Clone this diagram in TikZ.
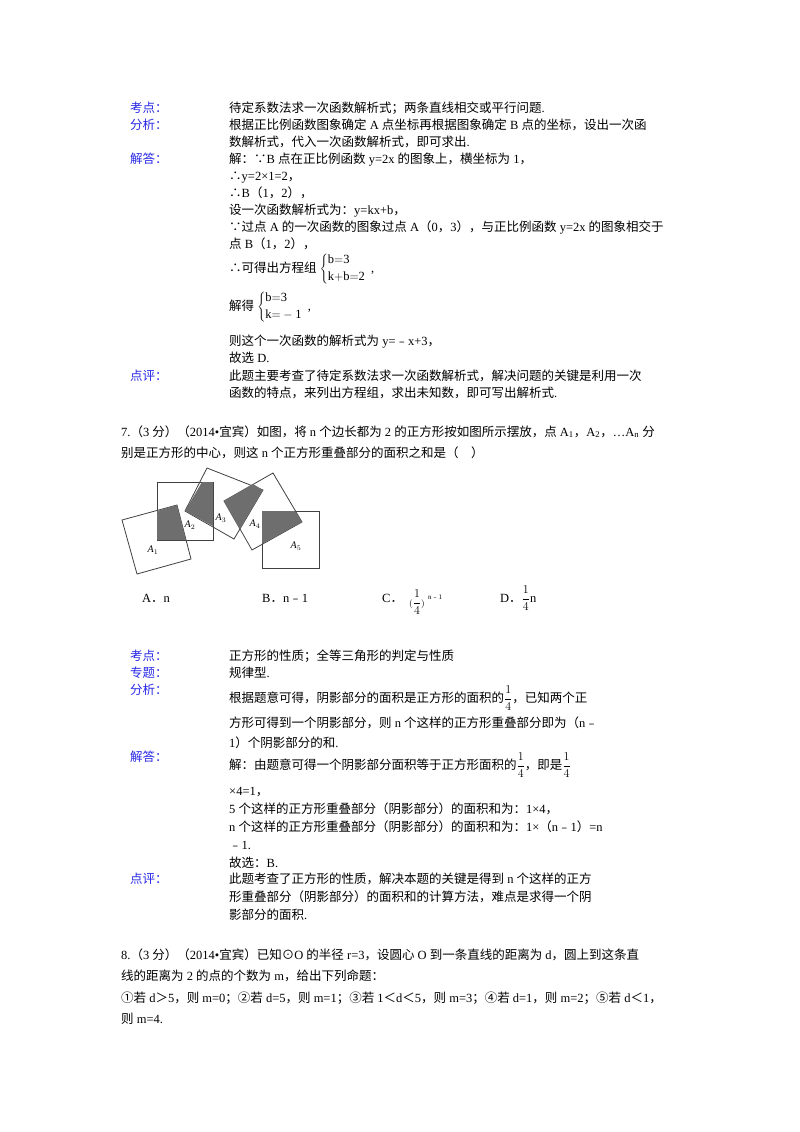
\documentclass[tikz,border=0pt]{standalone}
\usepackage{fontspec}
\setmainfont{Liberation Serif}
\newfontfamily\cjkfont{Noto Sans CJK SC}
\newfontfamily\latinfont{Liberation Serif}
\XeTeXinterchartokenstate=1
\newXeTeXintercharclass\cjkclass
\newcount\cc
\def\setrange#1#2{\cc=#1 \loop \XeTeXcharclass\cc=\cjkclass \advance\cc 1 \ifnum\cc<#2 \repeat}
\setrange{"3000}{"3040}
\setrange{"4E00}{"A000}
\setrange{"FF00}{"FFF0}
\setrange{"FE30}{"FE70}
\setrange{"2460}{"2474}
\setrange{"2234}{"2236}
\XeTeXcharclass"2299=\cjkclass
\XeTeXinterchartoks 0 \cjkclass = {\cjkfont}
\XeTeXinterchartoks 4095 \cjkclass = {\cjkfont}
\XeTeXinterchartoks \cjkclass 0 = {\latinfont}
\XeTeXinterchartoks \cjkclass 4095 = {\latinfont}
\definecolor{lab}{RGB}{40,40,230}
\definecolor{shade}{RGB}{110,110,110}
\tikzset{txt/.style={anchor=base west,inner sep=0pt,font=\fontsize{12.5}{15}\selectfont},
lbl/.style={txt,text=lab},
sq/.style={draw=black!75,line width=0.8pt},
sh/.style={fill=shade},
alab/.style={inner sep=0pt,font=\fontsize{10}{12}\itshape}}
\newcommand\lineat[4]{\node[txt] (#1) at (#2,#3) {#4};}
\begin{document}
\begin{tikzpicture}[x=1pt,y=-1pt]
\useasboundingbox (0,0) rectangle (800,1132);
\fill[white] (0,0) rectangle (800,1132);
% section 1
\node[lbl] (k1) at (130,112) {考点：};
\node[lbl] (f1) at (130,129) {分析：};
\node[lbl] (j1) at (130,163) {解答：};
\node[lbl] (d1) at (130,380) {点评：};
\lineat{a1}{229}{112}{待定系数法求一次函数解析式；两条直线相交或平行问题.}
\lineat{a2}{229}{129}{根据正比例函数图象确定 A 点坐标再根据图象确定 B 点的坐标，设出一次函}
\lineat{a3}{229}{146}{数解析式，代入一次函数解析式，即可求出.}
\lineat{a4}{229}{163}{解：∵B 点在正比例函数 y=2x 的图象上，横坐标为 1，}
\lineat{a5}{229}{180}{∴y=2×1=2，}
\lineat{a6}{229}{197}{∴B（1，2），}
\lineat{a7}{229}{214}{设一次函数解析式为：y=kx+b，}
\lineat{a8}{229}{231}{∵过点 A 的一次函数的图象过点 A（0，3），与正比例函数 y=2x 的图象相交于}
\lineat{a9}{229}{248}{点 B（1，2），}
\lineat{a10}{229}{272}{∴可得出方程组 $\left\{\begin{array}{@{}l}\mathrm{b{=}3}\\[2pt] \mathrm{k{+}b{=}2}\end{array}\right.$,}
\lineat{a11}{229}{310}{解得 $\left\{\begin{array}{@{}l}\mathrm{b{=}3}\\[2pt] \mathrm{k{=}-1}\end{array}\right.$,}
\lineat{a12}{229}{345}{则这个一次函数的解析式为 y=﹣x+3，}
\lineat{a13}{229}{362}{故选 D.}
\lineat{a14}{229}{380}{此题主要考查了待定系数法求一次函数解析式，解决问题的关键是利用一次}
\lineat{a15}{229}{397}{函数的特点，来列出方程组，求出未知数，即可写出解析式.}
% question 7
\lineat{q1}{121}{436}{7.（3 分）（2014•宜宾）如图，将 n 个边长都为 2 的正方形按如图所示摆放，点 A\textsubscript{1}，A\textsubscript{2}，…A\textsubscript{n} 分}
\lineat{q2}{121}{457}{别是正方形的中心，则这 n 个正方形重叠部分的面积之和是（　）}
% figure
\draw[sq] (122,520) -- (177,505) -- (191,559) -- (137,574) -- cycle;
\draw[sq] (157,482) rectangle (213,540);
\draw[sq] (185,511) -- (207,468) -- (263,490) -- (234,539) -- cycle;
\draw[sq] (224,501) -- (273,473) -- (302,522) -- (252,550) -- cycle;
\draw[sq] (262,511) rectangle (319,568);
\fill[sh] (157,511) -- (177,505) -- (186,540) -- (157,540) -- cycle;
\fill[sh] (185,511) -- (202,482) -- (213,482) -- (213,526) -- cycle;
\fill[sh] (224,501) -- (253,484) -- (263,490) -- (240,529) -- cycle;
\fill[sh] (262,511) -- (295,511) -- (302,522) -- (262,544) -- cycle;
\node[alab] (A1) at (153,550) {A$_1$};
\node[alab] (A2) at (190,525) {A$_2$};
\node[alab] (A3) at (221,518) {A$_3$};
\node[alab] (A4) at (255,524) {A$_4$};
\node[alab] (A5) at (296,546) {A$_5$};
% options
\lineat{oA}{142}{602}{A．n}
\lineat{oB}{262}{602}{B．n﹣1}
\lineat{oC}{382}{602}{C．}
\node[txt] (oC2) at (409,606) {$\scriptstyle(\displaystyle\frac{1}{4}\scriptstyle)$\raisebox{7pt}{\fontsize{7}{8}\selectfont\ \ n﹣1}};
\lineat{oD}{500}{602}{D．$\displaystyle\frac{1}{4}$n}
% section 2
\node[lbl] (k2) at (130,660) {考点：};
\node[lbl] (z2) at (130,677) {专题：};
\node[lbl] (f2) at (130,694) {分析：};
\node[lbl] (j2) at (130,761) {解答：};
\node[lbl] (d2) at (130,883) {点评：};
\lineat{b1}{229}{660}{正方形的性质；全等三角形的判定与性质}
\lineat{b2}{229}{677}{规律型.}
\lineat{b3}{229}{702}{根据题意可得，阴影部分的面积是正方形的面积的$\displaystyle\frac{1}{4}$，已知两个正}
\lineat{b4}{229}{727}{方形可得到一个阴影部分，则 n 个这样的正方形重叠部分即为（n﹣}
\lineat{b5}{229}{747}{1）个阴影部分的和.}
\lineat{b6}{229}{769}{解：由题意可得一个阴影部分面积等于正方形面积的$\displaystyle\frac{1}{4}$，即是$\displaystyle\frac{1}{4}$}
\lineat{b7}{229}{795}{×4=1，}
\lineat{b8}{229}{813}{5 个这样的正方形重叠部分（阴影部分）的面积和为：1×4，}
\lineat{b9}{229}{831}{n 个这样的正方形重叠部分（阴影部分）的面积和为：1×（n﹣1）=n}
\lineat{b10}{229}{849}{﹣1.}
\lineat{b11}{229}{867}{故选：B.}
\lineat{b12}{229}{883}{此题考查了正方形的性质，解决本题的关键是得到 n 个这样的正方}
\lineat{b13}{229}{901}{形重叠部分（阴影部分）的面积和的计算方法，难点是求得一个阴}
\lineat{b14}{229}{919}{影部分的面积.}
% question 8
\lineat{c1}{121}{959}{8.（3 分）（2014•宜宾）已知⊙O 的半径 r=3，设圆心 O 到一条直线的距离为 d，圆上到这条直}
\lineat{c2}{121}{980}{线的距离为 2 的点的个数为 m，给出下列命题：}
\lineat{c3}{121}{1002}{①若 d＞5，则 m=0；②若 d=5，则 m=1；③若 1＜d＜5，则 m=3；④若 d=1，则 m=2；⑤若 d＜1，}
\lineat{c4}{121}{1023}{则 m=4.}
\end{tikzpicture}
\end{document}
